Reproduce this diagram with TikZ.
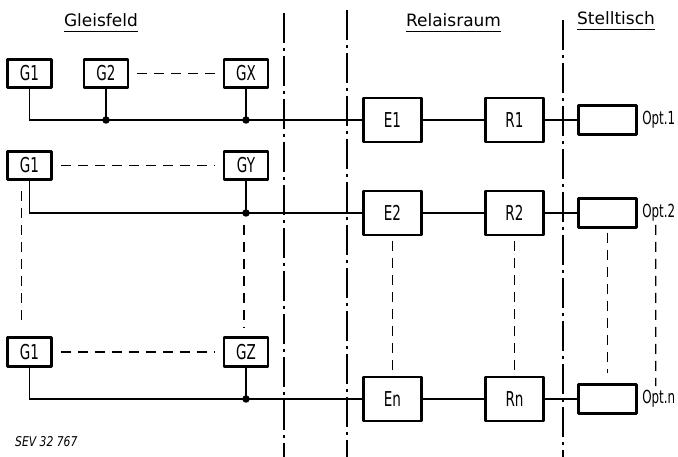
\documentclass[tikz,border=0pt]{standalone}
\usepackage{fontspec}
\usetikzlibrary{calc}
\newfontfamily\hfont{DejaVu Sans}
\newfontfamily\bfont[FakeStretch=0.66]{DejaVu Sans}
\newfontfamily\sfont[FakeStretch=0.8]{DejaVu Sans}
\begin{document}
\begin{tikzpicture}[x=1pt,y=-1pt,
  box/.style={draw,line width=2.8pt,line join=round,inner sep=0pt,font=\bfont\fontsize{20.5}{20.5}\selectfont},
  gbox/.style={box,minimum width=44pt,minimum height=28.5pt},
  ebox/.style={box,minimum width=58.5pt,minimum height=44pt},
  obox/.style={box,minimum width=58.5pt,minimum height=29pt},
  wire/.style={line width=1.3pt},
  dsh/.style={line width=1.3pt,dash pattern=on 10pt off 7pt},
  border/.style={line width=2.2pt,dash pattern=on 30pt off 5pt on 3pt off 5pt},
  head/.style={font=\hfont\fontsize{17}{17}\selectfont,inner sep=0pt,anchor=base},
  uline/.style={line width=1.5pt},
  optlbl/.style={font=\bfont\fontsize{18}{18}\selectfont,inner sep=0pt,anchor=west},
  dot/.style={circle,fill,inner sep=0pt,minimum size=7.5pt}
]
\useasboundingbox (0,0) rectangle (678,457);

% headings
\node[head] (H1) at (101,27) {Gleisfeld};
\node[head] (H2) at (453.5,27) {Relaisraum};
\node[head] (H3) at (616,25) {Stelltisch};
\draw[uline] ([yshift=-4.5pt]H1.base west) -- ([yshift=-4.5pt]H1.base east);
\draw[uline] ([yshift=-4.5pt]H2.base west) -- ([yshift=-4.5pt]H2.base east);
\draw[uline] ([yshift=-4.5pt]H3.base west) -- ([yshift=-4.5pt]H3.base east);

% boundaries
\coordinate (B1t) at (284,13); \coordinate (B1b) at (284,457);
\coordinate (B2t) at (347,10); \coordinate (B2b) at (347,457);
\coordinate (B3t) at (563,20); \coordinate (B3b) at (563,457);
\draw[border] (B1t) -- (B1b);
\draw[border] (B2t) -- (B2b);
\draw[border] (B3t) -- (B3b);

% row 1
\node[gbox] (G1a) at (29.5,73.5) {G1};
\node[gbox] (G2) at (106,73.5) {G2};
\node[gbox] (GX) at (246,73.5) {GX};
\node[ebox] (E1) at (392.5,120) {E1};
\node[ebox] (R1) at (514.5,120) {R1};
\node[obox] (O1) at (607.5,120) {};
\node[optlbl] (L1) at ([xshift=4pt]O1.east) {Opt.1};

% row 2
\node[gbox] (G1b) at (29.5,165.5) {G1};
\node[gbox] (GY) at (246,165.5) {GY};
\node[ebox] (E2) at (392.5,213) {E2};
\node[ebox] (R2) at (514.5,213) {R2};
\node[obox] (O2) at (607.5,213) {};
\node[optlbl] (L2) at ([xshift=4pt]O2.east) {Opt.2};

% row 3
\node[gbox] (G1c) at (29.5,352) {G1};
\node[gbox] (GZ) at (246,352) {GZ};
\node[ebox] (En) at (392.5,399) {En};
\node[ebox] (Rn) at (514.5,399) {Rn};
\node[obox] (On) at (607.5,399) {};
\node[optlbl] (Ln) at ([xshift=4pt]On.east) {Opt.n};

% wires row 1
\draw[wire] (G1a.south) |- (E1.west);
\draw[wire] (G2.south) -- (G2.south |- E1.west);
\draw[wire] (GX.south) -- (GX.south |- E1.west);
\node[dot] (d1a) at (G2.south |- E1.west) {};
\node[dot] (d1b) at (GX.south |- E1.west) {};
\draw[wire] (E1) -- (R1);
\draw[wire] (R1) -- (O1);

% wires row 2
\draw[wire] (G1b.south) |- (E2.west);
\draw[wire] (GY.south) -- (GY.south |- E2.west);
\node[dot] (d2) at (GY.south |- E2.west) {};
\draw[wire] (E2) -- (R2);
\draw[wire] (R2) -- (O2);

% wires row 3
\draw[wire] (G1c.south) |- (En.west);
\draw[wire] (GZ.south) -- (GZ.south |- En.west);
\node[dot] (d3) at (GZ.south |- En.west) {};
\draw[wire] (En) -- (Rn);
\draw[wire] (Rn) -- (On);

% dashed continuations
\draw[dsh,shorten <=8pt,shorten >=8pt] (G2.east) -- (GX.west);
\draw[dsh,shorten <=8pt,shorten >=8pt] (G1b.east) -- (GY.west);
\draw[dsh,shorten <=8pt,shorten >=8pt] (G1c.east) -- (GZ.west);
\draw[dsh] ([xshift=-8pt,yshift=-10pt]G1b.south) -- ([xshift=-8pt,yshift=11pt]G1c.north);
\draw[dsh] ([xshift=-2pt,yshift=-12pt]d2.center) -- ([xshift=-2pt,yshift=8pt]GZ.north);
\draw[dsh] ([yshift=-5pt]E2.south) -- ([yshift=4pt]En.north);
\draw[dsh] ([yshift=-5pt]R2.south) -- ([yshift=4pt]Rn.north);
\draw[dsh] ([yshift=-4pt]O2.south) -- ([yshift=10pt]On.north);
\draw[dsh] ([xshift=-3pt,yshift=-3pt]L2.south) -- ([xshift=-3pt,yshift=4pt]Ln.north);

% reference number
\node[font=\sfont\itshape\fontsize{13.5}{13.5}\selectfont,anchor=base west,inner sep=0pt] (sev) at (15,446) {SEV 32 767};
\end{tikzpicture}
\end{document}
